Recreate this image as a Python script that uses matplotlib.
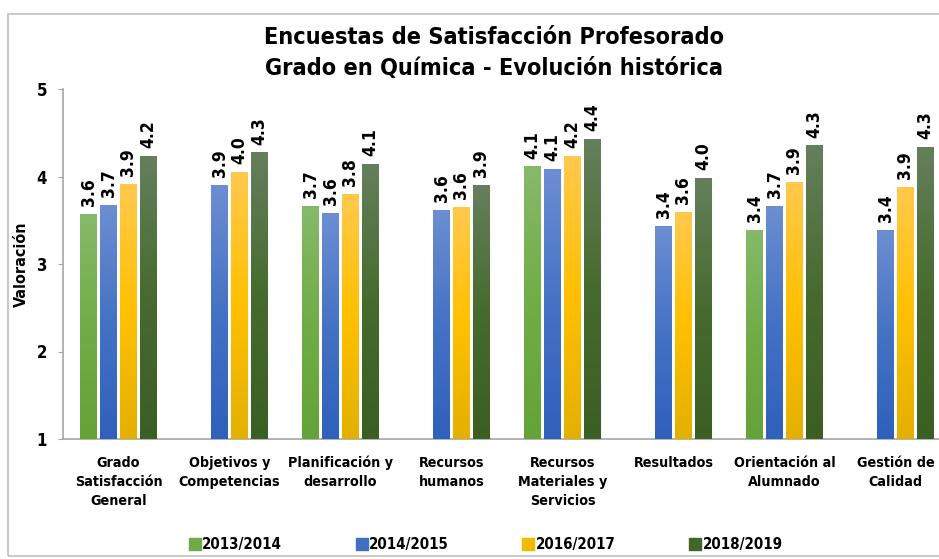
import numpy as np
import matplotlib
matplotlib.use("Agg")
import matplotlib.pyplot as plt
from matplotlib import font_manager as fm
from matplotlib.colors import LinearSegmentedColormap
from matplotlib.patches import Rectangle
from matplotlib.lines import Line2D

# look for a narrow bold face (the original uses Arial Narrow)
narrow = None
for f in fm.fontManager.ttflist:
    fn = f.fname.lower()
    if ("narrow" in fn or "condensed" in fn) and "bold" in fn and "oblique" not in fn and "italic" not in fn:
        if "liberation" in fn or narrow is None:
            narrow = f.fname


def fp(size):
    if narrow:
        return fm.FontProperties(fname=narrow, size=size)
    return fm.FontProperties(family="Liberation Sans", weight="bold", size=size * 0.85)


# data
categories = ["Grado\nSatisfacción\nGeneral", "Objetivos y\nCompetencias",
              "Planificación y\ndesarrollo", "Recursos\nhumanos",
              "Recursos\nMateriales y\nServicios", "Resultados",
              "Orientación al\nAlumnado", "Gestión de\nCalidad"]
series = ["2013/2014", "2014/2015", "2016/2017", "2018/2019"]
v_1314 = [3.57, np.nan, 3.66, np.nan, 4.11, np.nan, 3.38, np.nan]
v_1415 = [3.67, 3.90, 3.58, 3.61, 4.08, 3.43, 3.66, 3.38]
v_1617 = [3.91, 4.05, 3.80, 3.65, 4.23, 3.59, 3.93, 3.88]
v_1819 = [4.23, 4.27, 4.14, 3.90, 4.42, 3.98, 4.35, 4.33]
values = [v_1314, v_1415, v_1617, v_1819]

# gradient stops: bottom, middle, top
grads = [["#64a338", "#70ad47", "#86b96a"],
         ["#2f60bb", "#4472c4", "#6d8ed2"],
         ["#e4b000", "#ffc000", "#ffc94d"],
         ["#3b5f22", "#476b2e", "#657f5c"]]
legend_cols = ["#6eab44", "#4170c2", "#f0ba00", "#43662a"]

W, H = 939, 559
fig = plt.figure(figsize=(W / 100, H / 100), dpi=100)

# outer chart border
fig.patches.append(Rectangle((8 / W, 3 / H), 1.2, (556 - 14) / H, transform=fig.transFigure,
                             fill=False, edgecolor="#bfbfbf", lw=1.2))

ax = fig.add_axes([63 / W, 120 / H, 888 / W, 350 / H])

x = np.arange(len(categories))
slot = 0.18
bw = 0.153
for i, (vals, g) in enumerate(zip(values, grads)):
    vals = np.array(vals)
    cmap = LinearSegmentedColormap.from_list("g%d" % i, g)
    xs = x + (i - 1.5) * slot
    bars = ax.bar(xs, vals - 1, bottom=1, width=bw, color=g[1], zorder=2)
    grad = np.linspace(0, 1, 256).reshape(-1, 1)
    for rect, v in zip(bars, vals):
        if np.isnan(v):
            continue
        x0, y0 = rect.get_xy()
        ax.imshow(grad, extent=(x0, x0 + rect.get_width(), y0, y0 + rect.get_height()),
                  origin="lower", cmap=cmap, aspect="auto", zorder=3)
        ax.annotate(f"{v:.1f}", (x0 + rect.get_width() / 2, v), xytext=(0, 6),
                    textcoords="offset points", rotation=90, ha="center", va="bottom",
                    fontproperties=fp(12.5))

ax.set_xlim(-0.5, len(categories) - 0.5)
ax.set_ylim(1, 5)
ax.set_yticks([1, 2, 3, 4, 5])
ax.set_xticks(x)
ax.set_xticklabels(categories, fontproperties=fp(10.3), linespacing=1.45)
for t in ax.get_yticklabels():
    t.set_fontproperties(fp(12))
ax.tick_params(axis="x", length=0, pad=12)
ax.tick_params(axis="y", length=3.6, color="#a6a6a6", pad=8)
for s in ["top", "right"]:
    ax.spines[s].set_visible(False)
for s in ["left", "bottom"]:
    ax.spines[s].set_color("#a6a6a6")
    ax.spines[s].set_linewidth(1.2)
ax.set_ylabel("Valoración", fontproperties=fp(11.5))
ax.yaxis.set_label_coords(-34 / 888, 0.5)

fig.text(494 / W, 1 - 37 / H, "Encuestas de Satisfacción Profesorado", ha="center", va="center",
         fontproperties=fp(16.8))
fig.text(494 / W, 1 - 68 / H, "Grado en Química - Evolución histórica", ha="center", va="center",
         fontproperties=fp(16.8))

handles = [Line2D([], [], marker="s", linestyle="", markersize=8, color=c) for c in legend_cols]
fig.legend(handles, series, loc="center", bbox_to_anchor=(485 / W, 1 - 545 / H), ncol=4,
           frameon=False, handletextpad=0.0, columnspacing=4.8, handlelength=1.0,
           prop=fp(10.8))

fig.savefig("out.png", dpi=100)
